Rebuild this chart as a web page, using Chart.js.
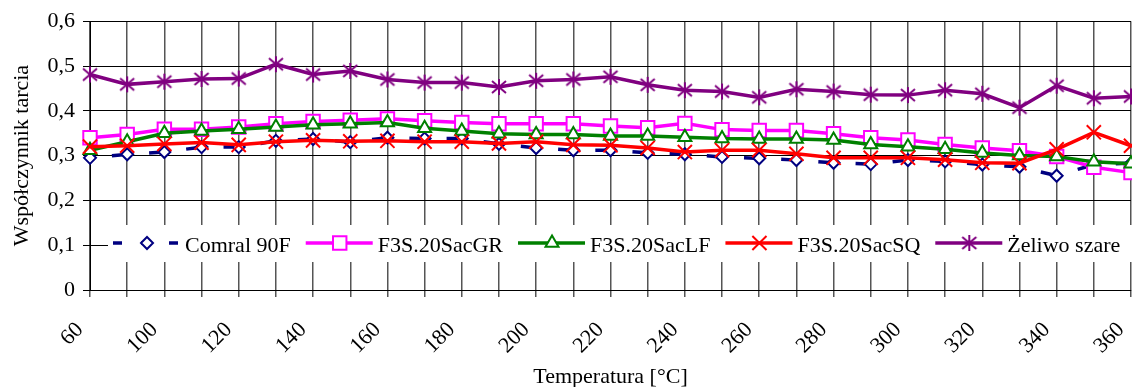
<!DOCTYPE html>
<html>
<head>
<meta charset="utf-8">
<script src="https://cdn.jsdelivr.net/npm/chart.js@4.4.0/dist/chart.umd.min.js"></script>
<style>
html, body { margin: 0; padding: 0; background: #fff; overflow: hidden; }
#wrap { position: relative; width: 1132px; height: 387px; overflow: hidden; }
#chart { display: block; }
</style>
</head>
<body>
<div id="wrap"><canvas id="chart" width="1143" height="387"></canvas></div>
<script>
// temperatura [°C]
let temperatures = [60, 80, 100, 110, 120, 130, 140, 150, 160, 170, 180, 190, 200, 210, 220, 230,
    240, 250, 260, 270, 280, 290, 300, 310, 320, 330, 340, 350, 360];

let comral90F = [0.295, 0.303, 0.308, 0.319, 0.319, 0.333, 0.337, 0.330, 0.340, 0.338, 0.338, 0.326, 0.317, 0.312, 0.312,
    0.306, 0.303, 0.297, 0.294, 0.290, 0.284, 0.281, 0.290, 0.287, 0.280, 0.275, 0.255, 0.280, 0.283];
let sacGR = [0.340, 0.347, 0.359, 0.359, 0.364, 0.371, 0.376, 0.379, 0.382, 0.378, 0.374, 0.371, 0.371, 0.371, 0.366,
    0.362, 0.372, 0.358, 0.356, 0.356, 0.349, 0.340, 0.335, 0.325, 0.317, 0.311, 0.298, 0.274, 0.262];
let sacLF = [0.312, 0.331, 0.350, 0.355, 0.359, 0.364, 0.369, 0.371, 0.374, 0.361, 0.355, 0.349, 0.347, 0.347, 0.344,
    0.344, 0.341, 0.338, 0.337, 0.337, 0.335, 0.325, 0.320, 0.314, 0.306, 0.300, 0.298, 0.286, 0.282];
let sacSQ = [0.320, 0.322, 0.326, 0.329, 0.324, 0.331, 0.334, 0.332, 0.333, 0.331, 0.331, 0.327, 0.331, 0.324, 0.323,
    0.317, 0.308, 0.312, 0.312, 0.304, 0.295, 0.295, 0.295, 0.291, 0.284, 0.283, 0.314, 0.352, 0.322];
let zeliwo = [0.481, 0.459, 0.465, 0.471, 0.472, 0.504, 0.481, 0.489, 0.470, 0.463, 0.463, 0.453, 0.467, 0.470, 0.476,
    0.458, 0.446, 0.443, 0.430, 0.448, 0.443, 0.436, 0.435, 0.446, 0.438, 0.407, 0.456, 0.428, 0.432];

const FONT = { family: '"Liberation Serif", "Times New Roman", serif', size: 22 };

// star marker (X with vertical bar), like the Excel one
function starMarker(color) {
    const c = document.createElement('canvas');
    c.width = 18; c.height = 18;
    const g = c.getContext('2d');
    g.strokeStyle = color;
    g.lineWidth = 2;
    g.beginPath();
    g.moveTo(9, 1); g.lineTo(9, 17);
    g.moveTo(2, 3); g.lineTo(16, 15);
    g.moveTo(16, 3); g.lineTo(2, 15);
    g.stroke();
    return c;
}

// legend drawn inside the plot, over a white strip
const legendBox = {
    id: 'legendBox',
    afterDatasetsDraw(chart) {
        const ctx = chart.ctx;
        const y = 243;
        ctx.save();
        ctx.fillStyle = '#fff';
        ctx.fillRect(108, 225, chart.width - 108, 37);
        ctx.font = FONT.size + 'px ' + FONT.family;
        ctx.textBaseline = 'alphabetic';
        let x = 113;
        chart.data.datasets.forEach(ds => {
            ctx.strokeStyle = ds.borderColor;
            ctx.lineWidth = ds.borderWidth;
            ctx.setLineDash(ds.borderDash ? [9, 19] : []);
            ctx.beginPath();
            ctx.moveTo(x, y);
            ctx.lineTo(x + 67, y);
            ctx.stroke();
            ctx.setLineDash([]);
            ctx.fillStyle = ds.pointBackgroundColor;
            ctx.strokeStyle = ds.pointBorderColor;
            ctx.lineWidth = ds.pointBorderWidth;
            Chart.helpers.drawPoint(ctx, {
                pointStyle: ds.pointStyle, radius: ds.pointRadius, rotation: 0, borderWidth: ds.pointBorderWidth
            }, x + 34, y);
            ctx.fillStyle = '#000';
            ctx.fillText(ds.label, x + 72, y + 9);
            x += 72 + ctx.measureText(ds.label).width + 15;
        });
        ctx.restore();
    }
};

const ctx = document.getElementById('chart').getContext('2d');
const chart = new Chart(ctx, {
    type: 'line',
    data: {
        labels: temperatures,
        datasets: [
            {
                label: 'Comral 90F',
                data: comral90F,
                borderColor: '#000080',
                borderWidth: 3.5,
                borderDash: [11, 26.5],
                borderDashOffset: 15.5,
                // restart the dash on every segment
                segment: { borderDashOffset: c => 15.5 + (c.p0DataIndex % 2) * 0.01 },
                pointStyle: 'rectRot',
                pointRadius: 6,
                pointBorderWidth: 2,
                pointBorderColor: '#000080',
                pointBackgroundColor: '#fff',
                order: 5
            },
            {
                label: 'F3S.20SacGR',
                data: sacGR,
                borderColor: '#ff00ff',
                borderWidth: 3.5,
                pointStyle: 'rect',
                pointRadius: 9.5,
                pointBorderWidth: 2,
                pointBorderColor: '#ff00ff',
                pointBackgroundColor: '#fff',
                order: 4
            },
            {
                label: 'F3S.20SacLF',
                data: sacLF,
                borderColor: '#008000',
                borderWidth: 3.5,
                pointStyle: 'triangle',
                pointRadius: 7.5,
                pointBorderWidth: 2,
                pointBorderColor: '#008000',
                pointBackgroundColor: '#fff',
                order: 3
            },
            {
                label: 'F3S.20SacSQ',
                data: sacSQ,
                borderColor: '#ff0000',
                borderWidth: 3.5,
                pointStyle: 'crossRot',
                pointRadius: 10,
                pointBorderWidth: 2,
                pointBorderColor: '#ff0000',
                pointBackgroundColor: '#ff0000',
                order: 2
            },
            {
                label: 'Żeliwo szare',
                data: zeliwo,
                borderColor: '#800080',
                borderWidth: 3.5,
                pointStyle: starMarker('#800080'),
                pointRadius: 9,
                pointBorderWidth: 2,
                pointBorderColor: '#800080',
                pointBackgroundColor: '#800080',
                order: 1
            }
        ]
    },
    options: {
        responsive: false,
        animation: false,
        devicePixelRatio: 1,
        layout: { padding: { left: 0, right: 0, top: 20, bottom: 0 } },
        plugins: {
            legend: { display: false },
            tooltip: { enabled: false }
        },
        scales: {
            x: {
                offset: false,
                grid: { color: '#555', lineWidth: 1.5, tickLength: 7, offset: false },
                border: { color: '#000', width: 1 },
                ticks: {
                    autoSkip: false,
                    maxRotation: 45,
                    minRotation: 45,
                    padding: 20,
                    labelOffset: -10,
                    color: '#000',
                    font: FONT,
                    callback: function (val, i) { return i % 2 === 0 ? String(temperatures[i]) : ''; }
                },
                title: { display: true, text: 'Temperatura [°C]', color: '#000', font: FONT, padding: { top: 0, bottom: -3 } },
                afterFit: function (s) { s.height = 97; s.paddingLeft = 0; s.paddingRight = 0; }
            },
            y: {
                min: 0,
                max: 0.6,
                grid: { color: '#000', lineWidth: 1, tickLength: 7 },
                border: { color: '#000', width: 1 },
                ticks: {
                    stepSize: 0.1,
                    padding: 8,
                    color: '#000',
                    font: FONT,
                    callback: function (v) { return v === 0 ? '0' : v.toFixed(1).replace('.', ','); }
                },
                title: { display: true, text: 'Współczynnik tarcia', color: '#000', font: FONT, padding: { top: 9, bottom: 0 } },
                afterFit: function (s) { s.width = 90; }
            }
        }
    },
    plugins: [legendBox]
});
</script>
</body>
</html>
